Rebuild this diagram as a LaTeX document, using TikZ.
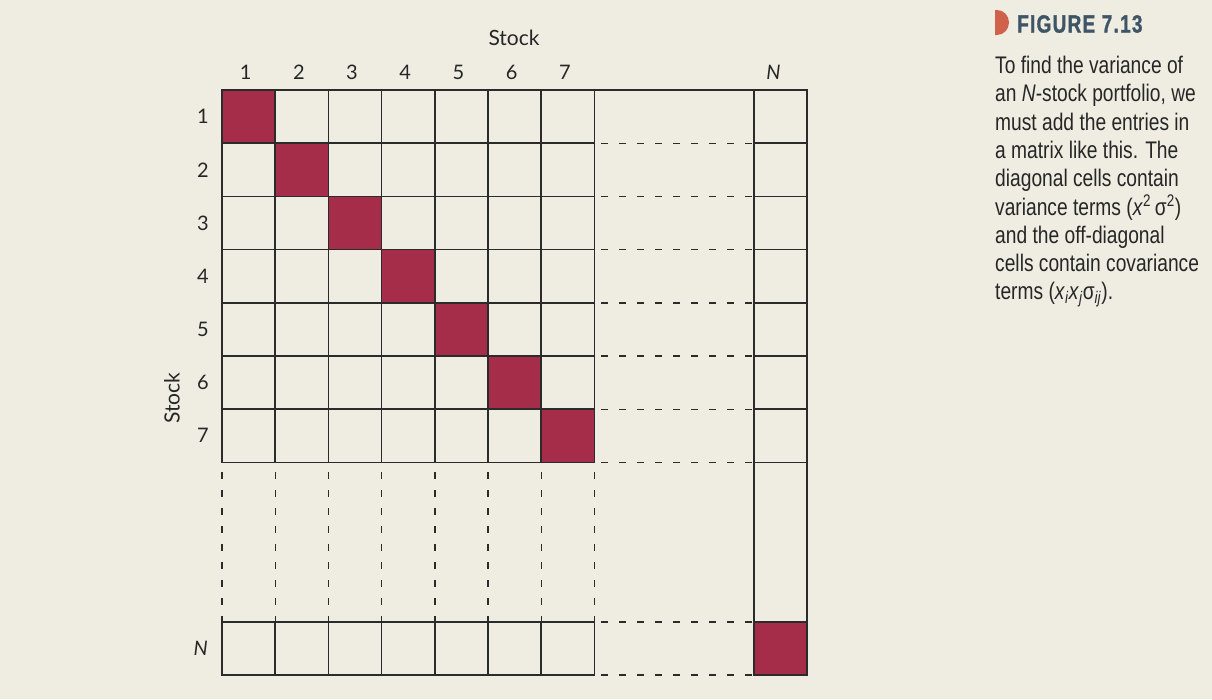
\documentclass[tikz,border=0pt]{standalone}
\usepackage{fontspec}
\setmainfont{Lato}
\newfontfamily\capfont[FakeStretch=0.80]{Liberation Sans}
\newfontfamily\headfont[FakeStretch=0.76, LetterSpace=5, FakeBold=1.2]{Liberation Sans}
\usepackage{xcolor}
\usepackage{tikz}
\usetikzlibrary{positioning}

\definecolor{paper}{HTML}{EFECE1}
\definecolor{diagred}{HTML}{A52D4A}
\definecolor{gridline}{HTML}{2B2B2B}
\definecolor{figslate}{HTML}{3E5566}
\definecolor{figorange}{HTML}{D0614A}
\definecolor{captext}{HTML}{262626}

\begin{document}
\begin{tikzpicture}[
    x=1pt, y=-1pt,
    % Cells
    cell/.style={
        rectangle, draw=gridline, line width=1.5pt,
        minimum size=53.2pt, inner sep=0pt, outer sep=0pt
    },
    diag/.style={cell, fill=diagred},
    gapline/.style={
        draw=gridline, line width=1.4pt,
        dash pattern=on 7pt off 11pt
    },
    % Labels
    axis_num/.style={font=\fontsize{20}{24}\selectfont, text=captext, inner sep=0pt},
    axis_text/.style={font=\fontsize{21}{24}\selectfont, text=captext, inner sep=0pt},
    cap_text/.style={font=\capfont\fontsize{24}{28.3}\selectfont, text=captext,
        inner sep=0pt, align=left}
]

    % --- PAGE ---
    \useasboundingbox (0,0) rectangle (1212,699);
    \fill[paper] (0,0) rectangle (1212,699);

    % --- CONFIGURATION ---
    \def\numStock{7}
    \def\cellW{53.2}

    % --- MAIN BLOCK (rows 1..7, columns 1..7) ---
    \foreach \i in {1,...,\numStock} {
        \foreach \j in {1,...,\numStock} {
            \ifnum\i=\j
                \node[diag] (c-\i-\j) at (195.4+\cellW*\j, 63.4+\cellW*\i) {};
            \else
                \node[cell] (c-\i-\j) at (195.4+\cellW*\j, 63.4+\cellW*\i) {};
            \fi
        }
        % N column
        \node[cell] (cN-\i) at (780.5, 63.4+\cellW*\i) {};
    }

    % --- ROW N ---
    \foreach \j in {1,...,\numStock} {
        \node[cell] (r-\j) at (195.4+\cellW*\j, 648.5) {};
    }
    \node[diag] (NN) at (780.5, 648.5) {};

    % --- SOLID LINKS ---
    \draw[gridline, line width=1.5pt] (c-1-7.north east) -- (cN-1.north west);
    \draw[gridline, line width=1.5pt] (cN-7.south west) -- (NN.north west);
    \draw[gridline, line width=1.5pt] (cN-7.south east) -- (NN.north east);

    % --- DASHED GAPS ---
    \foreach \i in {1,...,\numStock} {
        \draw[gapline, shorten <=7pt] (c-\i-7.south east) -- (cN-\i.south west);
    }
    \draw[gapline, shorten <=7pt] (r-7.north east) -- (NN.north west);
    \draw[gapline, shorten <=7pt] (r-7.south east) -- (NN.south west);
    \foreach \j in {1,...,\numStock} {
        \draw[gapline, shorten <=10pt] (c-7-\j.south west) -- (r-\j.north west);
    }
    \draw[gapline, shorten <=10pt] (c-7-7.south east) -- (r-7.north east);

    % --- AXIS LABELS ---
    \foreach \k in {1,...,\numStock} {
        \node[axis_num, anchor=south, above=10pt of c-1-\k.north, xshift=-3pt] (col-\k) {\k};
        \node[axis_num, anchor=east, left=13pt of c-\k-1.west] (row-\k) {\k};
    }
    \node[axis_num, anchor=south, above=10pt of cN-1.north, xshift=-7pt] (col-N) {\textit{N}};
    \node[axis_num, anchor=east, left=14pt of r-1.west] (row-N) {\textit{N}};

    \node[axis_text] (stock-top) at (514,38) {Stock};
    \node[axis_text, rotate=90] (stock-left) at (172,398) {Stock};

    % --- FIGURE CAPTION ---
    \fill[figorange] (995,10) -- (997,10)
        arc[start angle=-90, end angle=90, x radius=12, y radius=12.5] -- (995,35) -- cycle;
    \node[anchor=west, inner sep=0pt, text=figslate,
          font=\headfont\bfseries\fontsize{25}{28}\selectfont] (fig-title) at (1017,24) {FIGURE 7.13};
    \node[cap_text, anchor=north west] (fig-caption) at (995,56) {%
        To find the variance of\\
        an \textit{N}-stock portfolio, we\\
        must add the entries in\\
        a matrix like this. The\\
        diagonal cells contain\\
        variance terms (\textit{x}\textsuperscript{2}\,σ\textsuperscript{2})\\
        and the off-diagonal\\
        cells contain covariance\\
        terms (\textit{x}\textsubscript{\textit{i}}\textit{x}\textsubscript{\textit{j}}σ\textsubscript{\textit{ij}}).};

\end{tikzpicture}
\end{document}
